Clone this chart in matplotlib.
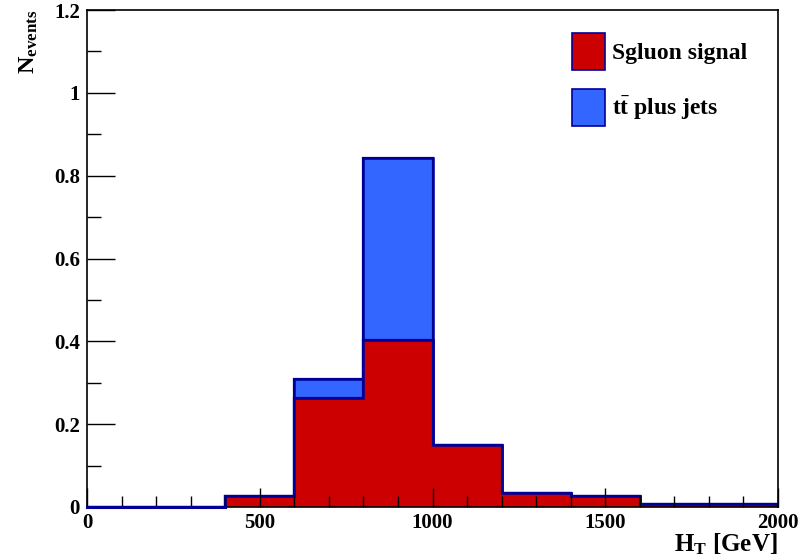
import matplotlib
matplotlib.use("Agg")
import matplotlib.pyplot as plt
import numpy as np
from matplotlib.ticker import MultipleLocator, FuncFormatter
from matplotlib.patches import Patch

# ---- data ----
bin_edges = [0, 200, 400, 600, 800, 1000, 1200, 1400, 1600, 1800, 2000]
sgluon_signal = [0.0, 0.0, 0.027, 0.262, 0.403, 0.150, 0.034, 0.027, 0.008, 0.008]
ttbar_jets = [0.0, 0.0, 0.0, 0.047, 0.440, 0.0, 0.0, 0.0, 0.0, 0.0]
legend_labels = ["Sgluon signal", r"$t\bar{t}$ plus jets"]
x_ticks = [0, 500, 1000, 1500, 2000]
y_ticks = [0, 0.2, 0.4, 0.6, 0.8, 1.0, 1.2]

plt.rcParams['font.family'] = ['Liberation Serif', 'DejaVu Serif']
plt.rcParams['font.weight'] = 'bold'
plt.rcParams['mathtext.fontset'] = 'custom'
plt.rcParams['mathtext.rm'] = 'Liberation Serif:bold'
plt.rcParams['mathtext.it'] = 'Liberation Serif:bold'
plt.rcParams['mathtext.bf'] = 'Liberation Serif:bold'
plt.rcParams['mathtext.default'] = 'bf'

RED = '#cc0000'
BLUE = '#3366ff'
EDGE = '#000099'

fig = plt.figure(figsize=(8.01, 5.6), dpi=100)
ax = fig.add_axes([87/801, 1-507/560, (778-87)/801, (507-10)/560])

edges = np.array(bin_edges)
sig = np.array(sgluon_signal)
tt = np.array(ttbar_jets)
total = sig + tt

ax.stairs(total, edges, baseline=0, fill=True, facecolor=BLUE, edgecolor=EDGE, linewidth=1.6)
ax.stairs(total, edges, baseline=None, fill=False, color=EDGE, linewidth=1.8)
ax.stairs(sig, edges, baseline=0, fill=True, facecolor=RED, edgecolor=EDGE, linewidth=1.6)
ax.stairs(sig, edges, baseline=None, fill=False, color=EDGE, linewidth=1.8)
ax.plot([0, 400], [0, 0], color=EDGE, lw=2.2, clip_on=False, zorder=3)

ax.set_xlim(0, 2000)
ax.set_ylim(0, 1.2)
ax.set_xticks(x_ticks)
ax.set_yticks(y_ticks)
ax.xaxis.set_minor_locator(MultipleLocator(100))
ax.yaxis.set_minor_locator(MultipleLocator(0.1))
ax.yaxis.set_major_formatter(FuncFormatter(lambda v, p: '%g' % round(v, 3)))
ax.tick_params(axis='both', which='both', direction='in', top=False, right=False,
               labelsize=15, width=1.0, color='black')
ax.tick_params(axis='y', which='major', length=20, pad=5)
ax.tick_params(axis='y', which='minor', length=10)
ax.tick_params(axis='x', which='major', length=14, pad=4)
ax.tick_params(axis='x', which='minor', length=8)
for lab in ax.get_xticklabels() + ax.get_yticklabels():
    lab.set_fontweight('bold')
for s in ax.spines.values():
    s.set_linewidth(1.2)

ax.set_ylabel(r'N$_{\mathbf{events}}$', fontsize=17.5, fontweight='bold', loc='top')
ax.yaxis.set_label_coords(-0.068, 1.0)
ax.set_xlabel(r'H$_{\mathbf{T}}$ [GeV]', fontsize=18, fontweight='bold', loc='right')
ax.xaxis.set_label_coords(1.0, -0.049)

handles = [Patch(facecolor=RED, edgecolor=EDGE, linewidth=1.2),
           Patch(facecolor=BLUE, edgecolor=EDGE, linewidth=1.2)]
leg = ax.legend(handles, legend_labels, loc='upper left',
                bbox_to_anchor=((572-87)/691, 1-(33-10)/497),
                frameon=False, fontsize=17, handlelength=1.4, handleheight=2.03,
                labelspacing=0.8, handletextpad=0.3, borderpad=0, borderaxespad=0)
for t in leg.get_texts():
    t.set_fontweight('bold')

fig.savefig('out.png', dpi=100)
